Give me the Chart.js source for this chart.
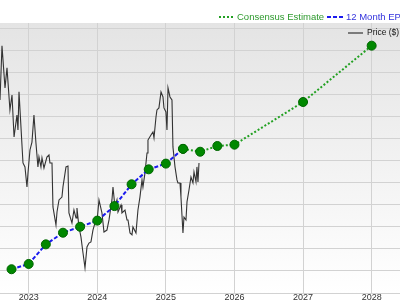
<!DOCTYPE html>
<html>
<head>
<meta charset="utf-8">
<script src="https://cdn.jsdelivr.net/npm/chart.js@4.4.0/dist/chart.umd.min.js"></script>
<style>
    html, body { margin: 0; padding: 0; background: #fff; }
</style>
</head>
<body>
<canvas id="epsChart" width="400" height="300"></canvas>
<script>
// x = decimal year, y = gridline units (the value axis is cut off in the crop)
const yearTicks = [2023, 2024, 2025, 2026, 2027, 2028];

// 12 Month EPS (reported)
const epsQuarters = [2022.75, 2023.0, 2023.25, 2023.5, 2023.75, 2024.0, 2024.25, 2024.5, 2024.75, 2025.0, 2025.25];
const epsValues = [1.08, 1.32, 2.21, 2.74, 3.01, 3.29, 3.95, 4.94, 5.62, 5.88, 6.55];

// Consensus Estimate
const consensusQuarters = [2025.25, 2025.5, 2025.75, 2026.0, 2027.0, 2028.0];
const consensusValues = [6.55, 6.42, 6.68, 6.74, 8.68, 11.24];

// Price ($)
const priceDates = [
    2022.582, 2022.611, 2022.655, 2022.684, 2022.727, 2022.757, 2022.787, 2022.829, 2022.844, 2022.859,
    2022.917, 2022.946, 2022.975, 2022.990, 2023.019, 2023.048, 2023.077, 2023.106, 2023.135, 2023.150,
    2023.179, 2023.194, 2023.223, 2023.266, 2023.296, 2023.310, 2023.340, 2023.354, 2023.398, 2023.413,
    2023.442, 2023.485, 2023.500, 2023.544, 2023.573, 2023.587, 2023.631, 2023.660, 2023.690, 2023.704,
    2023.733, 2023.762, 2023.792, 2023.821, 2023.850, 2023.879, 2023.908, 2023.937, 2023.966, 2023.996,
    2024.025, 2024.068, 2024.098, 2024.141, 2024.171, 2024.214, 2024.229, 2024.258, 2024.287, 2024.302,
    2024.346, 2024.360, 2024.404, 2024.433, 2024.448, 2024.477, 2024.506, 2024.520, 2024.564, 2024.593,
    2024.622, 2024.652, 2024.666, 2024.695, 2024.725, 2024.739, 2024.783, 2024.812, 2024.827, 2024.856,
    2024.870, 2024.899, 2024.929, 2024.958, 2024.972, 2025.001, 2025.016, 2025.031, 2025.060, 2025.089,
    2025.103, 2025.133, 2025.162, 2025.176, 2025.206, 2025.220, 2025.249, 2025.264, 2025.293, 2025.308,
    2025.337, 2025.366, 2025.395, 2025.410, 2025.439, 2025.453, 2025.468, 2025.483
];
const priceValues = [
    8.77, 11.23, 9.32, 10.23, 8.32, 9.00, 7.09, 8.09, 7.41, 9.14,
    5.91, 5.73, 4.82, 5.45, 6.50, 6.86, 8.09, 6.82, 5.73, 6.18,
    5.73, 6.14, 5.68, 6.18, 6.27, 5.91, 5.91, 3.91, 3.09, 3.68,
    4.23, 4.36, 4.82, 5.73, 5.77, 3.64, 3.18, 3.77, 3.41, 3.86,
    3.00, 2.55, 1.82, 1.14, 2.09, 2.27, 2.32, 2.86, 3.18, 3.23,
    4.23, 3.64, 2.77, 2.86, 3.32, 4.23, 4.82, 3.91, 4.23, 3.68,
    4.00, 3.64, 3.77, 3.32, 3.32, 2.73, 2.64, 3.00, 2.73, 3.77,
    4.36, 5.14, 4.82, 5.45, 6.36, 6.95, 7.18, 7.32, 7.05, 8.00,
    8.32, 8.41, 9.14, 8.91, 8.41, 8.23, 7.41, 9.32, 8.91, 8.77,
    6.64, 5.73, 5.14, 5.00, 5.00, 4.36, 2.73, 3.45, 3.32, 4.14,
    4.68, 5.27, 5.00, 5.50, 5.05, 5.73, 5.05, 5.91
];

const toPoints = (xs, ys) => xs.map((x, i) => ({ x: x, y: ys[i] }));

// Gray-to-white plot background
const plotBackground = {
    id: 'plotBackground',
    beforeDraw(chart) {
        const { ctx, chartArea } = chart;
        const grad = ctx.createLinearGradient(0, chartArea.top, 0, chartArea.bottom);
        grad.addColorStop(0, '#e4e4e4');
        grad.addColorStop(1, '#ffffff');
        ctx.save();
        ctx.fillStyle = grad;
        ctx.fillRect(chartArea.left, chartArea.top, chartArea.right - chartArea.left, chartArea.bottom - chartArea.top);
        ctx.restore();
    }
};

// Legend drawn by hand (original legend runs off the right edge)
const legendItems = {
    id: 'legendItems',
    afterDraw(chart) {
        const ctx = chart.ctx;
        ctx.save();
        ctx.textBaseline = 'middle';
        ctx.lineWidth = 2;

        ctx.strokeStyle = '#22a022';
        ctx.setLineDash([2, 2]);
        ctx.beginPath(); ctx.moveTo(219, 17); ctx.lineTo(233, 17); ctx.stroke();
        ctx.font = '9.5px "Liberation Sans", Arial, sans-serif';
        ctx.fillStyle = '#2e9a2e';
        ctx.fillText('Consensus Estimate', 237, 17);

        ctx.strokeStyle = '#1a1aee';
        ctx.setLineDash([4, 2]);
        ctx.beginPath(); ctx.moveTo(327, 17); ctx.lineTo(343, 17); ctx.stroke();
        ctx.fillStyle = '#3333dd';
        ctx.fillText('12 Month EPS', 346, 17);

        ctx.setLineDash([]);
        ctx.lineWidth = 1.2;
        ctx.strokeStyle = '#333';
        ctx.beginPath(); ctx.moveTo(348, 33); ctx.lineTo(363, 33); ctx.stroke();
        ctx.font = '8.5px "Liberation Sans", Arial, sans-serif';
        ctx.fillStyle = '#111';
        ctx.fillText('Price ($)', 367, 33);
        ctx.restore();
    }
};

const ctx = document.getElementById('epsChart').getContext('2d');
new Chart(ctx, {
    type: 'line',
    data: {
        datasets: [
            {
                label: 'Consensus Estimate',
                data: toPoints(consensusQuarters, consensusValues),
                borderColor: '#22a022',
                borderWidth: 2,
                borderDash: [2, 2],
                pointRadius: 4.5,
                pointBackgroundColor: '#008800',
                pointBorderColor: '#006600',
                pointBorderWidth: 1,
                order: 1
            },
            {
                label: '12 Month EPS',
                data: toPoints(epsQuarters, epsValues),
                borderColor: '#1a1aee',
                borderWidth: 2,
                borderDash: [4, 2],
                pointRadius: 4.5,
                pointBackgroundColor: '#008800',
                pointBorderColor: '#006600',
                pointBorderWidth: 1,
                order: 2
            },
            {
                label: 'Price ($)',
                data: toPoints(priceDates, priceValues),
                borderColor: '#333',
                borderWidth: 1.1,
                pointRadius: 0,
                tension: 0,
                order: 3
            }
        ]
    },
    options: {
        responsive: false,
        animation: false,
        devicePixelRatio: 1,
        layout: { autoPadding: false, padding: { top: 23, left: 0, right: 0, bottom: 0 } },
        plugins: {
            legend: { display: false },
            tooltip: { enabled: false }
        },
        scales: {
            x: {
                type: 'linear',
                min: 2022.582,
                max: 2028.413,
                afterBuildTicks: scale => {
                    scale.ticks = yearTicks.map(v => ({ value: v }));
                },
                afterFit: scale => {
                    scale.height = 7;
                    scale.paddingLeft = 0;
                    scale.paddingRight = 0;
                },
                grid: { color: '#d2d2d2', lineWidth: 1, drawTicks: false },
                border: { display: false },
                ticks: {
                    padding: -1,
                    color: '#333',
                    font: { family: '"Liberation Sans", Arial, sans-serif', size: 9 },
                    maxRotation: 0,
                    callback: v => String(v)
                }
            },
            y: {
                min: 0,
                max: 12.27,
                afterFit: scale => {
                    scale.width = 0;
                    scale.paddingTop = 0;
                    scale.paddingBottom = 0;
                },
                grid: { color: '#d2d2d2', lineWidth: 1, drawTicks: false },
                border: { display: false },
                ticks: { display: false, stepSize: 1, includeBounds: false }
            }
        }
    },
    plugins: [plotBackground, legendItems]
});
</script>
</body>
</html>
